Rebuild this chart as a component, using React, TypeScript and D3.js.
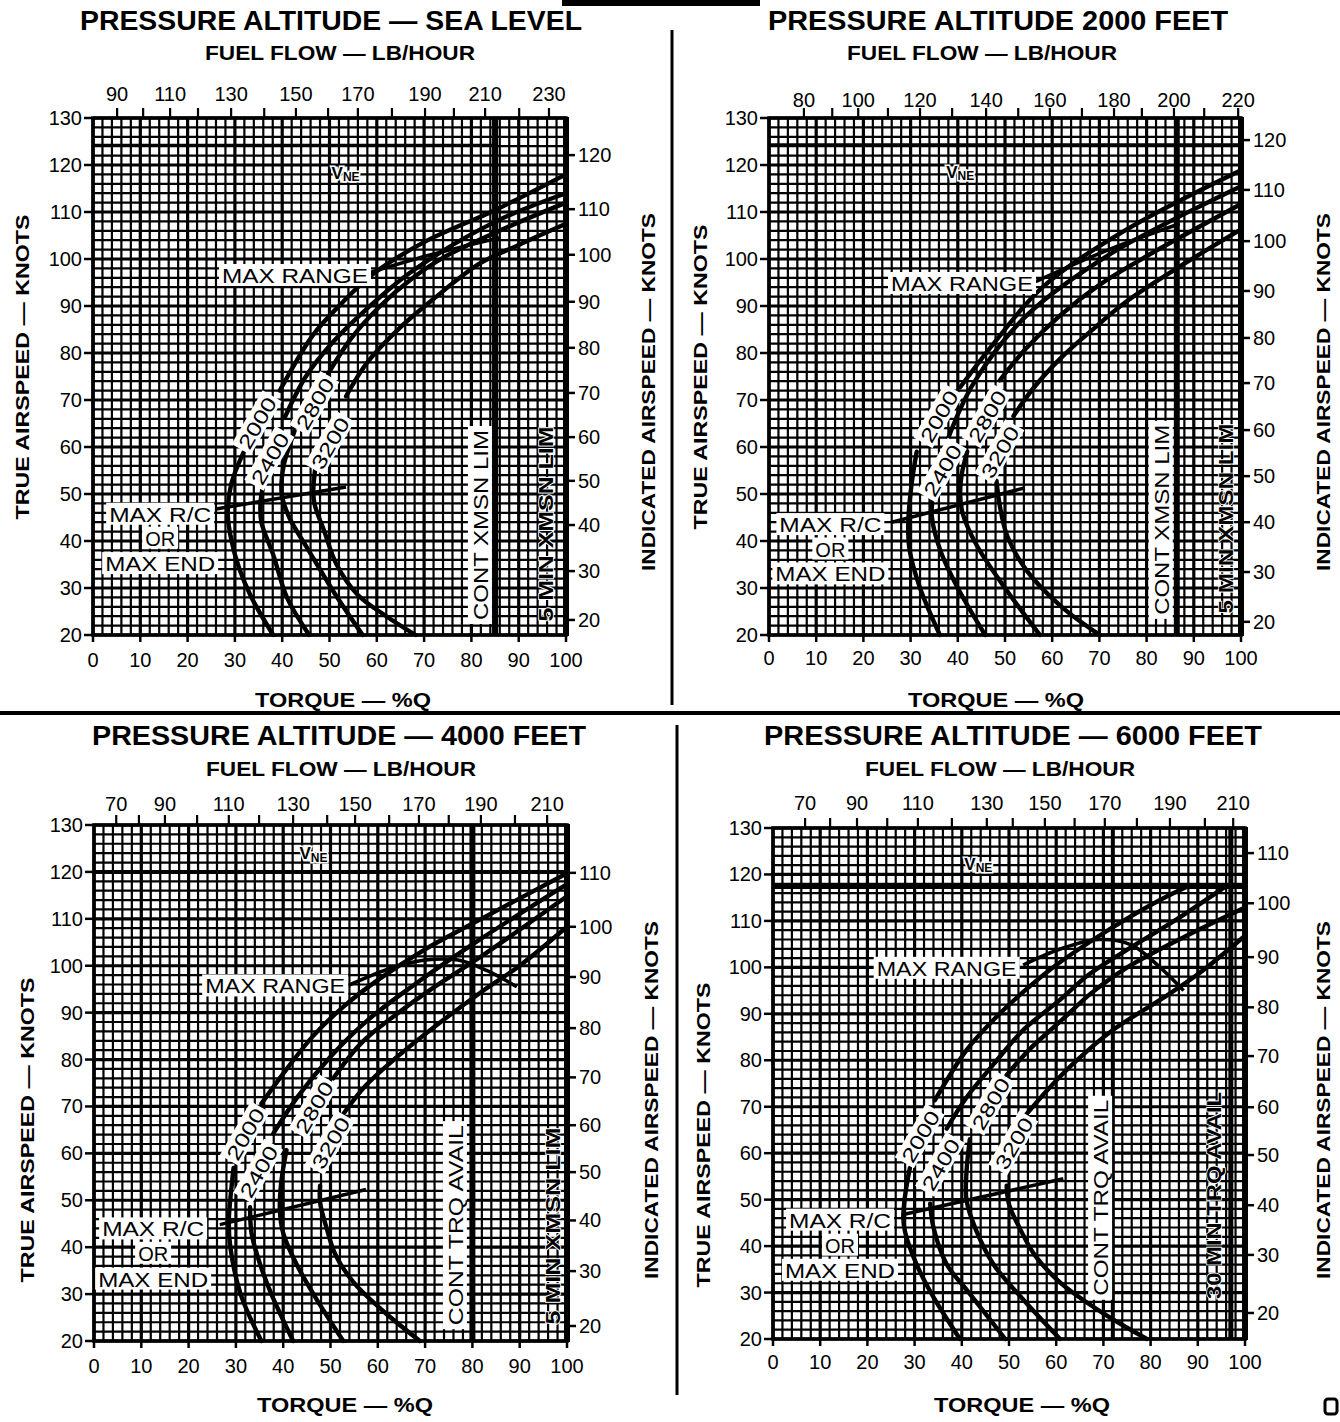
import React from "react";
import * as d3 from "d3";

type Pt = [number, number] | null;

const FONT = "'Liberation Sans', Arial, Helvetica, sans-serif";
const WEIGHTS = ["2000", "2400", "2800", "3200"];
const TORQUE_TICKS = [0, 10, 20, 30, 40, 50, 60, 70, 80, 90, 100];
const TAS_TICKS = [20, 30, 40, 50, 60, 70, 80, 90, 100, 110, 120, 130];

// ---------- SEA LEVEL ----------
const slFuelTicks = [90, 100, 110, 120, 130, 140, 150, 160, 170, 180, 190, 200, 210, 220, 230];
const slFuelTorque = [5.1, 10.6, 16.3, 22.2, 29.2, 36.2, 42.9, 49.7, 56.0, 63.2, 70.2, 76.3, 82.9, 90.1, 96.4];
const slIasTicks = [20, 30, 40, 50, 60, 70, 80, 90, 100, 110, 120];
const slIasTas = [23.2, 33.6, 43.4, 52.8, 62.1, 71.5, 81.1, 90.9, 100.9, 110.6, 122.1];
const sl2000: Pt[] = [[38.1, 20], [33.5, 28], [30.9, 34.2], [29.3, 40], [28.5, 45.6], [29.2, 52], [31.8, 58.8], null, [39.5, 72], [46.5, 83.8], [52.5, 90.5], [59.2, 96.8], [70, 103.6], [85.2, 110.5], [100, 118]];
const sl2400: Pt[] = [[45.7, 20], [41, 28], [38.1, 37.1], [35.6, 44], [35.4, 48], [35.9, 51.5], null, [40.5, 66.2], [45, 75], [50.7, 82.3], [58, 89.5], [67.6, 97.5], [85.2, 108], [100, 114]];
const sl2800: Pt[] = [[57, 20], [51, 29], [45.3, 38.5], [41.5, 45], [39.9, 50], [40.3, 56], [42.6, 63.4], null, [49.6, 75.4], [54.5, 83], [60.6, 89.9], [67, 95.5], [74.6, 100.6], [87, 106.5], [100, 112]];
const sl3200: Pt[] = [[68.2, 20], [62, 24], [56, 28.5], [51.5, 35], [48.9, 42.1], [46.8, 48], [46.6, 51.3], [47.1, 56.3], null, [53.5, 70.8], [58, 78], [64.8, 85.3], [72, 91.5], [81.7, 99], [90, 103], [100, 107.5]];
const slWeightLabels = [[34.6, 65.2], [37.3, 57.6], [46.8, 69.3], [50, 60.9]];
const slMaxRange: Pt[] = [[57.5, 96.8], [71, 100.8], [86, 104.5]];
const slMaxRC: Pt[] = [[26, 46.8], [53.5, 51.5]];

// ---------- 2000 FEET ----------
const f2FuelTicks = [80, 90, 100, 110, 120, 130, 140, 150, 160, 170, 180, 190, 200, 210, 220];
const f2FuelTorque = [7.4, 13.4, 18.9, 25.2, 32.0, 38.8, 46.0, 52.8, 59.5, 66.3, 73.1, 79.0, 85.8, 92.2, 99.4];
const f2IasTicks = [20, 30, 40, 50, 60, 70, 80, 90, 100, 110, 120];
const f2IasTas = [22.8, 33.4, 44.0, 53.8, 63.6, 73.6, 83.2, 93.2, 103.8, 114.7, 125.3];
const f2_2000: Pt[] = [[36.2, 20], [32, 30], [29.8, 38], [29.5, 43.7], [30.2, 52], [31.3, 59], null, [40.5, 72.7], [47.5, 81.9], [58.1, 94.1], [75.8, 106.3], [100, 118.9]];
const f2_2400: Pt[] = [[45.8, 20], [40, 30], [36.3, 38], [34.5, 45.2], [34.8, 50], null, [38, 62], [43.3, 73.5], [54.6, 88], [72.2, 101], [100, 115.5]];
const f2_2800: Pt[] = [[57.4, 20], [50, 30], [44, 39.1], [41, 46], [40.5, 49.8], [40.8, 54], [42, 59], null, [48.9, 74.2], [54.5, 81], [61.7, 88], [70, 94.5], [79.3, 100.2], [100, 111.7]];
const f2_3200: Pt[] = [[70.1, 20], [62, 26], [54.6, 33.7], [50.5, 41], [48.9, 47.5], [48.2, 52.8], null, [51.8, 66.6], [56, 72.5], [61.7, 78.8], [68, 84.5], [75.8, 91], [88, 99], [100, 106.3]];
const f2WeightLabels = [[35.9, 66.6], [36.6, 55.1], [46.1, 66.6], [48.8, 59]];
const f2MaxRange: Pt[] = [[56.5, 95.2], [72, 102], [87, 107.5]];
const f2MaxRC: Pt[] = [[26, 44], [54.2, 51.3]];

// ---------- 4000 FEET ----------
const f4FuelTicks = [70, 80, 90, 100, 110, 120, 130, 140, 150, 160, 170, 180, 190, 200, 210];
const f4FuelTorque = [4.7, 9.5, 15.0, 21.8, 28.5, 34.9, 42.1, 49.3, 55.2, 62.4, 68.7, 75.0, 81.8, 89.0, 95.8];
const f4IasTicks = [20, 30, 40, 50, 60, 70, 80, 90, 100, 110];
const f4IasTas = [23.2, 34.9, 45.7, 56.0, 66.0, 76.2, 86.7, 97.6, 108.3, 119.8];
const f4_2000: Pt[] = [[35.4, 20], [31, 30], [28.8, 40.2], [28.5, 45.5], [28.8, 50], [29.5, 56.9], null, [35.4, 70.6], [40, 77], [46.4, 85.1], [53, 91.5], [60.5, 97.3], [70, 103.5], [79.5, 108.7], [100, 119.7]];
const f4_2400: Pt[] = [[42.1, 20], [37.5, 30], [35.1, 36.4], [33.3, 43], [33, 48.5], null, [37.9, 64.2], [43, 72], [49.9, 80.5], [58, 88.5], [67.5, 95.8], [81.6, 105.6], [100, 117.4]];
const f4_2800: Pt[] = [[52.7, 20], [47, 29], [42.8, 36.4], [40, 43], [39.3, 47.8], [39.6, 54], [40.7, 60.7], null, [50.6, 76], [56.5, 83.5], [64, 89.7], [72, 95.5], [81.6, 101.8], [100, 114.8]];
const f4_3200: Pt[] = [[68.9, 20], [61, 26.5], [54.8, 32.6], [51, 38.5], [49.2, 44], [47.8, 49.5], [47.8, 53.1], null, [52.7, 68.4], [57.5, 74.5], [64, 80.5], [72, 87], [81.6, 94.2], [90, 100], [100, 108.3]];
const f4WeightLabels = [[31.9, 64.2], [34.7, 56.2], [46.4, 69.9], [49.9, 62.3]];
const f4MaxRange: Pt[] = [[53.8, 95.8], [62, 99.2], [70, 101.2], [77, 101.2], [83, 99], [89.4, 95.5]];
const f4MaxRC: Pt[] = [[26.6, 44.8], [57.5, 52.3]];

// ---------- 6000 FEET ----------
const f6FuelTicks = [70, 80, 90, 100, 110, 120, 130, 140, 150, 160, 170, 180, 190, 200, 210];
const f6FuelTorque = [6.8, 12.1, 17.8, 24.2, 30.7, 37.9, 45.3, 50.8, 57.6, 63.9, 70.3, 77.1, 84.1, 91.5, 97.5];
const f6IasTicks = [20, 30, 40, 50, 60, 70, 80, 90, 100, 110];
const f6IasTas = [25.6, 38.1, 48.8, 59.6, 69.9, 80.9, 91.4, 102.2, 113.8, 124.6];
const f6_2000: Pt[] = [[39.6, 20], [34, 29], [30.4, 36.1], [28, 43], [27.6, 46.1], [28, 51], [29, 56.8], null, [34.3, 71.4], [41, 82.2], [47, 89], [53.7, 95.3], [60, 100.5], [67.9, 106], [75, 110.5], [82, 114.5], [88, 117.5]];
const f6_2400: Pt[] = [[49.2, 20], [41.5, 30], [36.8, 36.1], [34, 44], [33.3, 49.1], null, [36.8, 65.3], [41, 72], [46.7, 79.1], [53, 86.5], [60.8, 93], [67, 98.5], [74.9, 103.7], [85, 110], [96, 117.5]];
const f6_2800: Pt[] = [[60.8, 20], [53, 28.5], [46.7, 36.1], [43, 43.5], [41, 49.9], [41, 56], [41.7, 63], null, [49.5, 76.8], [54.5, 82.5], [60.8, 88.3], [67.5, 94.5], [74.9, 99.9], [87, 106.5], [100, 112.9]];
const f6_3200: Pt[] = [[79.2, 20], [70, 25.5], [60.8, 32.2], [55.5, 38], [52.3, 43.8], [50, 49], [49.5, 53], null, [53.7, 68.4], [58.5, 74], [64.3, 79.9], [72, 86.5], [82, 93], [90, 98.5], [100, 106.8]];
const f6WeightLabels = [[31.1, 63.7], [35.4, 57.6], [46, 70.7], [50.9, 62.2]];
const f6MaxRange: Pt[] = [[53, 100.5], [61, 104], [69, 106], [76, 104.8], [82, 100], [87, 95]];
const f6MaxRC: Pt[] = [[27.6, 46.8], [61.5, 54.5]];

interface PanelCfg {
  title: string; titleCx: number; titleCy: number; titleLen: number;
  fuelCx: number; fuelCy: number; torqueCx: number; torqueCy: number;
  x0: number; x1: number; yT: number; yB: number;
  topLabelCy: number; bottomLabelCy: number;
  tasX: number; tasCy: number; iasX: number; iasCy: number;
  fuelTicks: number[]; fuelTorque: number[];
  iasTicks: number[]; iasTas: number[];
  curves: Pt[][]; weightLabels: number[][];
  maxRange: Pt[]; maxRC: Pt[];
  maxRangeLabel: [number, number]; maxRangeLen: number;
  rcT: number; rcV: number[];
  vne: number; vneTo: number; vneWidth: number; vneLabel: [number, number];
  contT: number; contW: number; contText: string; contPos: [number, number]; contLen: number;
  lim2T: number | null; lim2W: number; lim2Text: string; lim2Pos: [number, number]; lim2Len: number;
}

const panels: PanelCfg[] = [
  {
    title: "PRESSURE ALTITUDE — SEA LEVEL", titleCx: 331, titleCy: 21, titleLen: 502,
    fuelCx: 340, fuelCy: 53, torqueCx: 343, torqueCy: 700,
    x0: 93, x1: 566, yT: 118, yB: 635, topLabelCy: 94, bottomLabelCy: 660,
    tasX: 22, tasCy: 367, iasX: 648, iasCy: 392,
    fuelTicks: slFuelTicks, fuelTorque: slFuelTorque, iasTicks: slIasTicks, iasTas: slIasTas,
    curves: [sl2000, sl2400, sl2800, sl3200], weightLabels: slWeightLabels,
    maxRange: slMaxRange, maxRC: slMaxRC, maxRangeLabel: [42.7, 96.6], maxRangeLen: 146,
    rcT: 14.2, rcV: [45.8, 40.7, 35.3],
    vne: 124.3, vneTo: 85, vneWidth: 2.2, vneLabel: [53.4, 118.2],
    contT: 85, contW: 6, contText: "CONT XMSN LIM", contPos: [81.8, 43.4], contLen: 190,
    lim2T: null, lim2W: 0, lim2Text: "5 MIN XMSN LIM", lim2Pos: [95.6, 43.6], lim2Len: 195,
  },
  {
    title: "PRESSURE ALTITUDE 2000 FEET", titleCx: 998, titleCy: 21, titleLen: 460,
    fuelCx: 982, fuelCy: 53, torqueCx: 996, torqueCy: 700,
    x0: 769, x1: 1241, yT: 118, yB: 635, topLabelCy: 100, bottomLabelCy: 658,
    tasX: 700, tasCy: 377, iasX: 1323, iasCy: 392,
    fuelTicks: f2FuelTicks, fuelTorque: f2FuelTorque, iasTicks: f2IasTicks, iasTas: f2IasTas,
    curves: [f2_2000, f2_2400, f2_2800, f2_3200], weightLabels: f2WeightLabels,
    maxRange: f2MaxRange, maxRC: f2MaxRC, maxRangeLabel: [40.9, 94.9], maxRangeLen: 142,
    rcT: 13, rcV: [43.6, 38.4, 33.1],
    vne: 124.3, vneTo: 100, vneWidth: 3, vneLabel: [40.5, 118.5],
    contT: 86.5, contW: 5, contText: "CONT XMSN LIM", contPos: [83, 44.5], contLen: 190,
    lim2T: null, lim2W: 0, lim2Text: "5 MIN XMSN LIM", lim2Pos: [96.6, 44.8], lim2Len: 190,
  },
  {
    title: "PRESSURE ALTITUDE — 4000 FEET", titleCx: 339, titleCy: 736, titleLen: 494,
    fuelCx: 341, fuelCy: 769, torqueCx: 345, torqueCy: 1405,
    x0: 94, x1: 567, yT: 825, yB: 1341, topLabelCy: 804, bottomLabelCy: 1366,
    tasX: 27, tasCy: 1130, iasX: 651, iasCy: 1100,
    fuelTicks: f4FuelTicks, fuelTorque: f4FuelTorque, iasTicks: f4IasTicks, iasTas: f4IasTas,
    curves: [f4_2000, f4_2400, f4_2800, f4_3200], weightLabels: f4WeightLabels,
    maxRange: f4MaxRange, maxRC: f4MaxRC, maxRangeLabel: [38.3, 95.8], maxRangeLen: 140,
    rcT: 12.5, rcV: [44, 38.8, 33.3],
    vne: 120, vneTo: 100, vneWidth: 4, vneLabel: [46.4, 123.9],
    contT: 80, contW: 6, contText: "CONT TRQ AVAIL", contPos: [76.3, 44.7], contLen: 200,
    lim2T: null, lim2W: 0, lim2Text: "5 MIN XMSN LIM", lim2Pos: [96.8, 44.5], lim2Len: 197,
  },
  {
    title: "PRESSURE ALTITUDE — 6000 FEET", titleCx: 1013, titleCy: 736, titleLen: 498,
    fuelCx: 1000, fuelCy: 769, torqueCx: 1022, torqueCy: 1405,
    x0: 773, x1: 1245, yT: 828, yB: 1339, topLabelCy: 803, bottomLabelCy: 1362,
    tasX: 703, tasCy: 1135, iasX: 1323, iasCy: 1100,
    fuelTicks: f6FuelTicks, fuelTorque: f6FuelTorque, iasTicks: f6IasTicks, iasTas: f6IasTas,
    curves: [f6_2000, f6_2400, f6_2800, f6_3200], weightLabels: f6WeightLabels,
    maxRange: f6MaxRange, maxRC: f6MaxRC, maxRangeLabel: [36.8, 99.9], maxRangeLen: 140,
    rcT: 14.2, rcV: [45.7, 40.3, 34.9],
    vne: 117.5, vneTo: 100, vneWidth: 6, vneLabel: [43.5, 122.2],
    contT: 72, contW: 4, contText: "CONT TRQ AVAIL", contPos: [69.3, 50.4], contLen: 196,
    lim2T: 97, lim2W: 5, lim2Text: "30 MIN TRQ AVAIL", lim2Pos: [93.2, 50.9], lim2Len: 207,
  },
];

function Panel({ c }: { c: PanelCfg }) {
  const x = d3.scaleLinear().domain([0, 100]).range([c.x0, c.x1]);
  const y = d3.scaleLinear().domain([20, 130]).range([c.yB, c.yT]);
  const line = d3
    .line<Pt>()
    .defined((d) => d !== null)
    .x((d) => x((d as [number, number])[0]))
    .y((d) => y((d as [number, number])[1]))
    .curve(d3.curveCatmullRom.alpha(0.5));
  const straight = d3
    .line<Pt>()
    .x((d) => x((d as [number, number])[0]))
    .y((d) => y((d as [number, number])[1]));

  const gridT = d3.range(0, 101, 2);
  const gridV = d3.range(20, 131, 2);
  const tickFont = 20;

  const vLabel = (pos: [number, number], text: string, len: number, boxed: boolean, key: string) => {
    const cx = x(pos[0]);
    const cy = y(pos[1]);
    return (
      <g key={key} transform={`translate(${cx},${cy}) rotate(-90)`}>
        {boxed && <rect x={-len / 2 - 4} y={-12} width={len + 8} height={24} fill="white" />}
        <text x={0} y={1} textAnchor="middle" dominantBaseline="central" fontSize={20}
          fontWeight={boxed ? "normal" : "bold"}
          stroke={boxed ? "none" : "white"} strokeWidth={boxed ? 0 : 1.6} paintOrder="stroke"
          textLength={len} lengthAdjust="spacingAndGlyphs">{text}</text>
      </g>
    );
  };

  return (
    <g fontFamily={FONT}>
      {/* titles */}
      <text x={c.titleCx} y={c.titleCy} textAnchor="middle" dominantBaseline="central" fontSize={27} fontWeight="bold" textLength={c.titleLen} lengthAdjust="spacingAndGlyphs">{c.title}</text>
      <text x={c.fuelCx} y={c.fuelCy} textAnchor="middle" dominantBaseline="central" fontSize={20} fontWeight="bold" textLength={270} lengthAdjust="spacingAndGlyphs">FUEL FLOW — LB/HOUR</text>
      <text x={c.torqueCx} y={c.torqueCy} textAnchor="middle" dominantBaseline="central" fontSize={20} fontWeight="bold" textLength={176} lengthAdjust="spacingAndGlyphs">TORQUE — %Q</text>
      <text transform={`translate(${c.tasX},${c.tasCy}) rotate(-90)`} textAnchor="middle" dominantBaseline="central" fontSize={19} fontWeight="bold" textLength={305} lengthAdjust="spacingAndGlyphs">TRUE AIRSPEED — KNOTS</text>
      <text transform={`translate(${c.iasX},${c.iasCy}) rotate(-90)`} textAnchor="middle" dominantBaseline="central" fontSize={19} fontWeight="bold" textLength={358} lengthAdjust="spacingAndGlyphs">INDICATED AIRSPEED — KNOTS</text>

      {/* grid */}
      <rect x={c.x0} y={c.yT} width={c.x1 - c.x0} height={c.yB - c.yT} fill="white" />
      {gridT.map((t) => (
        <line key={"gt" + t} x1={x(t)} x2={x(t)} y1={c.yT} y2={c.yB} stroke="black" strokeWidth={t % 10 === 0 ? 3.2 : 2.2} />
      ))}
      {gridV.map((v) => (
        <line key={"gv" + v} x1={c.x0} x2={c.x1} y1={y(v)} y2={y(v)} stroke="black" strokeWidth={v % 10 === 0 ? 3.2 : 2.2} />
      ))}
      <rect x={c.x0} y={c.yT} width={c.x1 - c.x0} height={c.yB - c.yT} fill="none" stroke="black" strokeWidth={3.5} />
      <line x1={x(100)} x2={x(100)} y1={c.yT - 1} y2={c.yB + 1} stroke="black" strokeWidth={6} />

      {/* limit lines */}
      <line x1={x(c.contT)} x2={x(c.contT)} y1={c.yT} y2={c.yB} stroke="black" strokeWidth={c.contW} />
      {c.lim2T !== null && (
        <line x1={x(c.lim2T)} x2={x(c.lim2T)} y1={c.yT} y2={c.yB} stroke="black" strokeWidth={c.lim2W} />
      )}
      <line x1={x(0)} x2={x(c.vneTo)} y1={y(c.vne)} y2={y(c.vne)} stroke="black" strokeWidth={c.vneWidth} />

      {/* axes ticks */}
      {TAS_TICKS.map((v) => (
        <g key={"lt" + v}>
          <line x1={c.x0 - 9} x2={c.x0} y1={y(v)} y2={y(v)} stroke="black" strokeWidth={2.5} />
          <text x={c.x0 - 11} y={y(v)} textAnchor="end" dominantBaseline="central" fontSize={tickFont}>{v}</text>
        </g>
      ))}
      {TORQUE_TICKS.map((t) => (
        <g key={"bt" + t}>
          <line x1={x(t)} x2={x(t)} y1={c.yB} y2={c.yB + 7} stroke="black" strokeWidth={2.5} />
          <text x={x(t)} y={c.bottomLabelCy} textAnchor="middle" dominantBaseline="central" fontSize={tickFont}>{t}</text>
        </g>
      ))}
      {c.iasTicks.map((v, i) => (
        <g key={"rt" + v}>
          <line x1={c.x1} x2={c.x1 + 9} y1={y(c.iasTas[i])} y2={y(c.iasTas[i])} stroke="black" strokeWidth={2.5} />
          <text x={c.x1 + 12} y={y(c.iasTas[i])} textAnchor="start" dominantBaseline="central" fontSize={tickFont}>{v}</text>
        </g>
      ))}
      {c.fuelTicks.map((f, i) => (
        <g key={"tt" + f}>
          <line x1={x(c.fuelTorque[i])} x2={x(c.fuelTorque[i])} y1={c.yT} y2={c.yT - 10} stroke="black" strokeWidth={2.2} />
          {i % 2 === 0 && (
            <text x={x(c.fuelTorque[i])} y={c.topLabelCy} textAnchor="middle" dominantBaseline="central" fontSize={tickFont}>{f}</text>
          )}
        </g>
      ))}

      {/* VNE label */}
      <text x={x(c.vneLabel[0])} y={y(c.vneLabel[1])} textAnchor="middle" dominantBaseline="central" fontSize={17} fontWeight="bold" stroke="white" strokeWidth={3} paintOrder="stroke">
        V<tspan fontSize={12} dy={4}>NE</tspan>
      </text>

      {/* vertical limit labels */}
      {vLabel(c.contPos, c.contText, c.contLen, true, "cont")}
      {vLabel(c.lim2Pos, c.lim2Text, c.lim2Len, false, "lim2")}

      {/* max range / max rc */}
      <path d={line(c.maxRange) || ""} fill="none" stroke="black" strokeWidth={3.5} />
      <path d={straight(c.maxRC) || ""} fill="none" stroke="black" strokeWidth={3.5} />

      {/* weight curves */}
      {c.curves.map((pts, i) => (
        <path key={"c" + i} d={line(pts) || ""} fill="none" stroke="black" strokeWidth={4.4} strokeLinecap="round" />
      ))}
      {c.weightLabels.map((p, i) => (
        <g key={"wl" + i} transform={`translate(${x(p[0])},${y(p[1])}) rotate(-60)`}>
          <rect x={-31} y={-11} width={62} height={22} fill="white" />
          <text x={0} y={1} textAnchor="middle" dominantBaseline="central" fontSize={20} textLength={56} lengthAdjust="spacingAndGlyphs">{WEIGHTS[i]}</text>
        </g>
      ))}

      {/* horizontal labels */}
      <rect x={x(c.maxRangeLabel[0]) - c.maxRangeLen / 2 - 3} y={y(c.maxRangeLabel[1]) - 11} width={c.maxRangeLen + 6} height={22} fill="white" />
      <text x={x(c.maxRangeLabel[0])} y={y(c.maxRangeLabel[1]) + 1} textAnchor="middle" dominantBaseline="central" fontSize={20} textLength={c.maxRangeLen} lengthAdjust="spacingAndGlyphs">MAX RANGE</text>
      {["MAX R/C", "OR", "MAX END"].map((s, i) => {
        const len = i === 1 ? 30 : i === 0 ? 102 : 110;
        return (
          <g key={"rc" + i}>
            <rect x={x(c.rcT) - len / 2 - 3} y={y(c.rcV[i]) - 11} width={len + 6} height={22} fill="white" />
            <text x={x(c.rcT)} y={y(c.rcV[i]) + 1} textAnchor="middle" dominantBaseline="central" fontSize={20} textLength={len} lengthAdjust="spacingAndGlyphs">{s}</text>
          </g>
        );
      })}
    </g>
  );
}

export default function App() {
  return (
    <svg width={1340} height={1422} viewBox="0 0 1340 1422" style={{ position: "absolute", left: 0, top: 0, background: "white" }}>
      <rect x={0} y={0} width={1340} height={1422} fill="white" />
      <rect x={562} y={0} width={198} height={6} fill="black" />
      <line x1={672} x2={672} y1={30} y2={705} stroke="black" strokeWidth={3} />
      <line x1={0} x2={1340} y1={713} y2={713} stroke="black" strokeWidth={4} />
      <line x1={677} x2={677} y1={725} y2={1395} stroke="black" strokeWidth={3} />
      <rect x={1325} y={1399} width={12} height={15} rx={3} fill="none" stroke="black" strokeWidth={3} />
      {panels.map((p, i) => (
        <Panel key={i} c={p} />
      ))}
    </svg>
  );
}
